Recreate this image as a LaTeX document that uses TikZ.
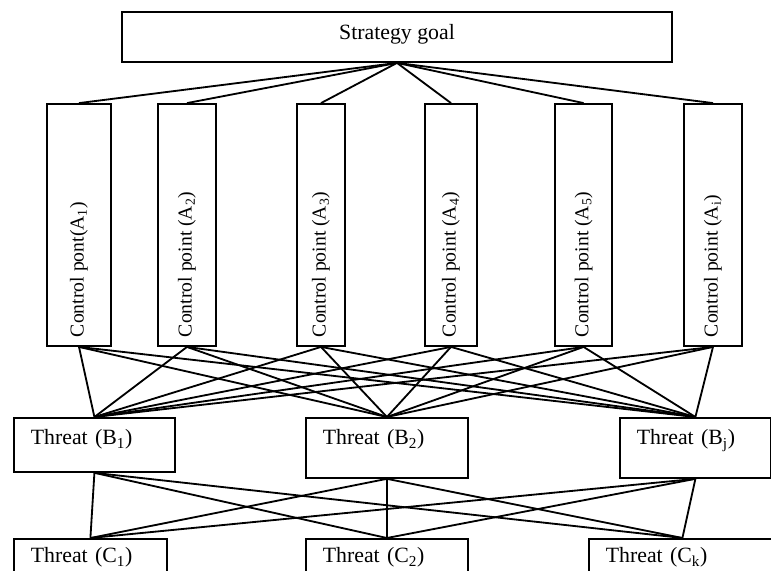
\documentclass[tikz,border=0pt]{standalone}
\usepackage{fontspec}
\usepackage{graphicx}
\setmainfont{Liberation Serif}
\usetikzlibrary{positioning}

\newcommand{\cplabel}[1]{\rotatebox{90}{\makebox[5.6cm][l]{#1}}}

\begin{document}
\begin{tikzpicture}
  %----- styles
  \tikzset{
    goalbox/.style ={draw,line width=1.3pt,inner ysep=0pt,text height=0.675cm,text depth=0.575cm,
                     minimum width=13.75cm,font=\fontsize{15.5}{18}\selectfont},
    cpbox/.style   ={draw,line width=1.3pt,minimum height=6.05cm,inner sep=0pt,
                     font=\fontsize{14}{16}\selectfont},
    threat/.style  ={draw,line width=1.3pt,anchor=north west,align=left,inner xsep=0.425cm,
                     inner ysep=0pt,text height=0.675cm,text depth=#1,
                     font=\fontsize{15.5}{18}\selectfont},
    link/.style    ={line width=1.3pt}
  }
  \clip (0,0) rectangle (19.275,-14.25);

  %----- nodes
  % top goal
  \node[goalbox] (goal) at (9.925,-0.925) {Strategy goal};
  % control points
  \node[cpbox,minimum width=1.6cm]   (A1) at ( 1.975,-5.625) {\cplabel{Control pont(A\textsubscript{1})}};
  \node[cpbox,minimum width=1.45cm]  (A2) at ( 4.675,-5.625) {\cplabel{Control point (A\textsubscript{2})}};
  \node[cpbox,minimum width=1.2cm]   (A3) at ( 8.025,-5.625) {\cplabel{Control point (A\textsubscript{3})}};
  \node[cpbox,minimum width=1.3cm]   (A4) at (11.275,-5.625) {\cplabel{Control point (A\textsubscript{4})}};
  \node[cpbox,minimum width=1.425cm] (A5) at (14.59, -5.625) {\cplabel{Control point (A\textsubscript{5})}};
  \node[cpbox,minimum width=1.45cm]  (Ai) at (17.825,-5.625) {\cplabel{Control point (A\textsubscript{i})}};
  % threats B
  \node[threat=0.675cm,text width=3.175cm] (B1) at ( 0.325,-10.425) {Threat (B\textsubscript{1})};
  \node[threat=0.825cm,text width=3.2cm]   (B2) at ( 7.625,-10.425) {Threat (B\textsubscript{2})};
  \node[threat=0.825cm,text width=2.925cm] (Bj) at (15.475,-10.425) {Threat (B\textsubscript{j})};
  % threats C (cut by the lower edge)
  \node[threat=0.9cm,text height=0.6cm,text width=2.975cm] (C1) at ( 0.325,-13.45) {Threat (C\textsubscript{1})};
  \node[threat=0.9cm,text height=0.6cm,text width=3.2cm]   (C2) at ( 7.625,-13.45) {Threat (C\textsubscript{2})};
  \node[threat=0.9cm,text height=0.6cm,text width=3.825cm] (Ck) at (14.7,  -13.45) {Threat (C\textsubscript{k})};

  %----- connections
  \foreach \a in {A1,A2,A3,A4,A5,Ai}
    \draw[link] (goal.south) -- (\a.north);

  \foreach \a in {A1,A2,A3,A4,A5,Ai}
    \foreach \b in {B1,B2,Bj}
      \draw[link] (\a.south) -- (\b.north);

  \foreach \b in {B1,B2,Bj}
    \foreach \c in {C1,C2,Ck}
      \draw[link] (\b.south) -- (\c.north);
\end{tikzpicture}
\end{document}
